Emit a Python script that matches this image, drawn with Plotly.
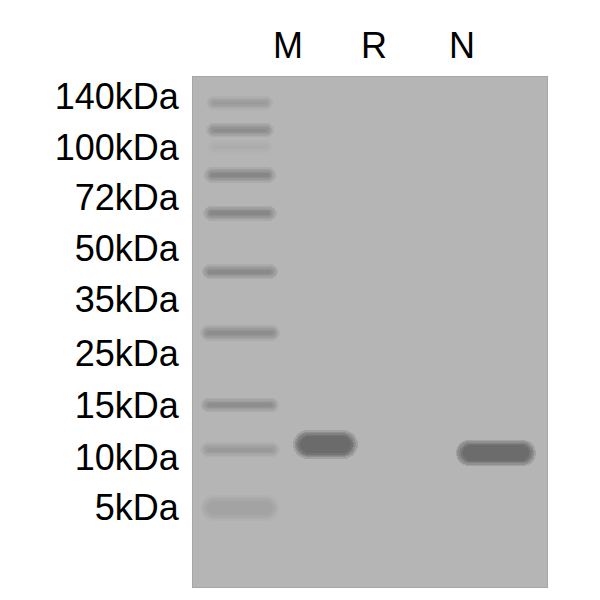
import plotly.graph_objects as go

# marker ladder labels and where they sit along the gel (relative migration, 0 = top of gel)
ladder_labels = ["140kDa", "100kDa", "72kDa", "50kDa", "35kDa", "25kDa", "15kDa", "10kDa", "5kDa"]
label_rf = [0.039, 0.139, 0.237, 0.337, 0.437, 0.541, 0.643, 0.745, 0.843]

# ladder bands (lane 1)
ladder_rf = [0.051, 0.104, 0.137, 0.192, 0.267, 0.382, 0.502, 0.643, 0.731, 0.845]
ladder_len = [0.66, 0.68, 0.64, 0.72, 0.74, 0.78, 0.82, 0.80, 0.82, 0.80]
ladder_thick = [0.011, 0.012, 0.010, 0.014, 0.013, 0.013, 0.014, 0.013, 0.014, 0.034]
ladder_int = [0.22, 0.30, 0.08, 0.36, 0.34, 0.32, 0.30, 0.27, 0.22, 0.11]

# sample lanes
lane_names = ["M", "R", "N"]
sample_lane = [2, 4]
sample_rf = [0.721, 0.737]
sample_len = [0.64, 0.82]
sample_thick = [0.040, 0.036]
sample_int = [0.58, 0.56]


def band_traces():
    centers = [1] * len(ladder_rf) + sample_lane
    rf = ladder_rf + sample_rf
    lengths = ladder_len + sample_len
    thick = ladder_thick + sample_thick
    inten = ladder_int + sample_int

    # soft edges: several translucent layers stacked on top of each other
    layers = [(0.016, 0.06), (0.010, 0.04), (0.004, 0.02), (-0.001, 0.0), (-0.006, -0.02)]
    n = len(layers)
    traces = []
    for t_add, pad in layers:
        colors = ["rgba(55,55,55,%.3f)" % (1 - (1 - i) ** (1 / n)) for i in inten]
        full = [l + 2 * pad for l in lengths]
        traces.append(go.Bar(
            orientation="h",
            y=rf,
            x=full,
            base=[c - f / 2 for c, f in zip(centers, full)],
            width=[max(t + t_add, 0.003) for t in thick],
            marker=dict(color=colors, cornerradius="50%", line=dict(width=0)),
            hoverinfo="skip",
            showlegend=False,
        ))
    return traces


fig = go.Figure(data=band_traces())

font_name = "Liberation Sans, Arial, sans-serif"

# the page puts the figure 8px in from the top-left corner
header_x = [0.268, 0.511, 0.760]
fig.update_layout(
    width=600,
    height=600,
    margin=dict(l=185, r=61, t=69, b=21),
    paper_bgcolor="white",
    plot_bgcolor="#b5b5b5",
    barmode="overlay",
    bargap=0,
    showlegend=False,
    annotations=[
        dict(text=name, x=hx, y=1.061, xref="paper", yref="paper",
             xanchor="center", yanchor="middle",
             showarrow=False, font=dict(family=font_name, size=36, color="black"))
        for name, hx in zip(lane_names, header_x)
    ],
)

fig.update_xaxes(
    range=[0.45, 4.6],
    showticklabels=False,
    showgrid=False,
    zeroline=False,
    showline=True,
    mirror=True,
    linecolor="#a6a6a6",
    linewidth=1,
)

fig.update_yaxes(
    range=[1, 0],
    tickvals=label_rf,
    ticktext=ladder_labels,
    tickfont=dict(family=font_name, size=36, color="black"),
    ticks="",
    ticklabelstandoff=6,
    showgrid=False,
    zeroline=False,
    showline=True,
    mirror=True,
    linecolor="#a6a6a6",
    linewidth=1,
)

fig.write_html("out.html", config={"displayModeBar": False})
